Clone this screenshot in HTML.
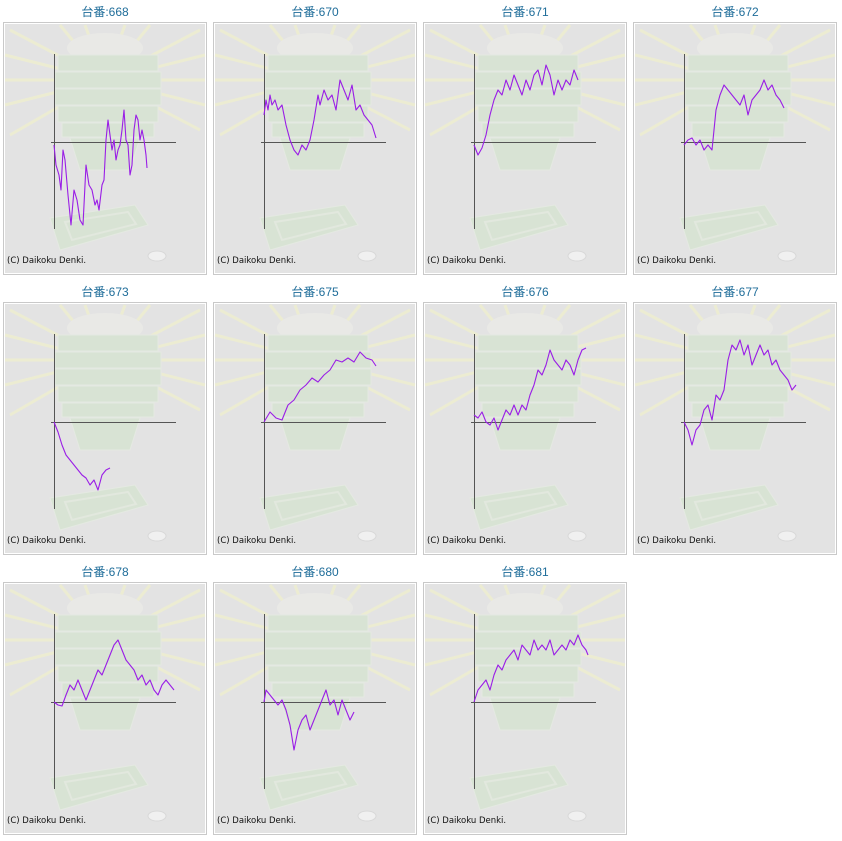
<!DOCTYPE html>
<html><head><meta charset="utf-8"><style>
html,body{margin:0;padding:0;background:#fff;}
svg{display:block}
.t{font-family:"Liberation Sans","Noto Sans CJK JP",sans-serif;font-size:12px;fill:#1f6d9a;text-anchor:middle}
.c{font-family:"DejaVu Sans","Liberation Sans",sans-serif;font-size:8.5px;fill:#111}
.s{fill:none;stroke:#9a1ee6;stroke-width:1.1;stroke-linejoin:round}
</style></head><body>
<svg width="842" height="841" viewBox="0 0 842 841" xmlns="http://www.w3.org/2000/svg">
<defs>
<g id="p">
<rect x="3.5" y="22.5" width="203" height="252" fill="#fff" stroke="#c9c9c9"/>
<rect x="5" y="24" width="200" height="249" fill="#e3e3e3"/>
<g opacity="0.6">
<g stroke="#f2f2c8" stroke-width="3">
<line x1="105" y1="80" x2="10" y2="30"/><line x1="105" y1="80" x2="5" y2="55"/>
<line x1="105" y1="80" x2="5" y2="80"/><line x1="105" y1="80" x2="5" y2="105"/>
<line x1="105" y1="80" x2="10" y2="135"/><line x1="105" y1="80" x2="200" y2="30"/>
<line x1="105" y1="80" x2="205" y2="55"/><line x1="105" y1="80" x2="205" y2="80"/>
<line x1="105" y1="80" x2="205" y2="105"/><line x1="105" y1="80" x2="200" y2="130"/>
<line x1="105" y1="80" x2="60" y2="25"/><line x1="105" y1="80" x2="150" y2="25"/>
<line x1="105" y1="80" x2="85" y2="25"/><line x1="105" y1="80" x2="125" y2="25"/>
</g>
<ellipse cx="105" cy="48" rx="38" ry="15" fill="#eeeee8"/>
<g fill="#d2e4cb" stroke="#e6eee2" stroke-width="1">
<rect x="58" y="55" width="100" height="16"/>
<rect x="55" y="72" width="106" height="16"/>
<rect x="55" y="89" width="106" height="16"/>
<rect x="58" y="106" width="100" height="16"/>
<rect x="62" y="123" width="92" height="14"/>
<path d="M70 138 L140 138 L130 170 L80 170 Z"/>
<path d="M50 218 L135 205 L148 225 L60 250 Z"/>
</g>
<path d="M65 222 L128 212 L136 224 L72 240 Z" fill="none" stroke="#e2ecdc" stroke-width="2"/>
</g>
<ellipse cx="157" cy="256" rx="9" ry="5" fill="#f0f0f0" stroke="#d8d8d8"/>
<line x1="54.5" y1="54" x2="54.5" y2="229" stroke="#555"/>
<line x1="51" y1="142.5" x2="176" y2="142.5" stroke="#555"/>
<text class="c" x="7" y="263">(C) Daikoku Denki.</text>
</g>
</defs>

<g transform="translate(0,0)"><use href="#p"/><text class="t" x="105" y="16">台番:668</text>
<polyline class="s" points="54,145 56,165 59,175 61,190 63,150 65,160 68,195 71,225 74,190 77,200 80,220 83,225 86,165 89,185 92,190 95,205 97,200 99,210 102,185 104,180 106,140 108,120 110,135 112,150 114,140 116,160 118,150 120,145 122,130 124,110 126,140 128,145 130,175 132,165 134,130 136,115 138,120 140,140 142,130 144,140 146,155 147,168"/></g>

<g transform="translate(210,0)"><use href="#p"/><text class="t" x="105" y="16">台番:670</text>
<polyline class="s" points="54,115 56,100 58,110 60,95 62,105 65,100 68,110 72,105 76,125 80,140 84,150 88,155 92,145 96,150 100,140 104,120 108,95 110,105 114,90 118,100 122,95 126,110 130,80 134,90 138,100 142,85 146,110 150,105 154,115 158,120 162,125 166,138"/></g>

<g transform="translate(420,0)"><use href="#p"/><text class="t" x="105" y="16">台番:671</text>
<polyline class="s" points="54,145 58,155 62,148 66,135 70,115 74,100 78,90 82,95 86,80 90,90 94,75 98,85 102,95 106,80 110,90 114,75 118,70 122,85 126,65 130,75 134,95 138,80 142,90 146,80 150,85 154,70 158,80"/></g>

<g transform="translate(630,0)"><use href="#p"/><text class="t" x="105" y="16">台番:672</text>
<polyline class="s" points="54,145 58,140 62,138 66,145 70,140 74,150 78,145 82,150 86,110 90,95 94,85 98,90 102,95 106,100 110,105 114,95 118,115 122,100 126,95 130,90 134,80 138,90 142,85 146,95 150,100 154,108"/></g>

<g transform="translate(0,280)"><use href="#p"/><text class="t" x="105" y="16">台番:673</text>
<polyline class="s" points="54,142 58,152 62,165 66,175 70,180 74,185 78,190 82,195 86,198 90,205 94,200 98,210 102,195 106,190 110,188"/></g>

<g transform="translate(210,280)"><use href="#p"/><text class="t" x="105" y="16">台番:675</text>
<polyline class="s" points="54,142 60,132 66,138 72,140 78,125 84,120 90,110 96,105 102,98 108,102 114,95 120,90 126,80 132,82 138,78 144,82 150,72 156,78 162,80 166,86"/></g>

<g transform="translate(420,280)"><use href="#p"/><text class="t" x="105" y="16">台番:676</text>
<polyline class="s" points="54,135 58,138 62,132 66,142 70,145 74,138 78,150 82,140 86,130 90,135 94,125 98,135 102,125 106,130 110,115 114,105 118,90 122,95 126,85 130,70 134,80 138,85 142,90 146,80 150,85 154,95 158,80 162,70 166,68"/></g>

<g transform="translate(630,280)"><use href="#p"/><text class="t" x="105" y="16">台番:677</text>
<polyline class="s" points="54,142 58,150 62,165 66,150 70,145 74,130 78,125 82,140 86,115 90,120 94,110 98,80 102,65 106,70 110,60 114,75 118,65 122,85 126,75 130,65 134,75 138,70 142,85 146,80 150,90 154,95 158,100 162,110 166,105"/></g>

<g transform="translate(0,560)"><use href="#p"/><text class="t" x="105" y="16">台番:678</text>
<polyline class="s" points="54,142 58,145 62,146 66,135 70,125 74,130 78,120 82,130 86,140 90,130 94,120 98,110 102,115 106,105 110,95 114,85 118,80 122,90 126,100 130,105 134,110 138,120 142,115 146,125 150,120 154,130 158,135 162,125 166,120 170,125 174,130"/></g>

<g transform="translate(210,560)"><use href="#p"/><text class="t" x="105" y="16">台番:680</text>
<polyline class="s" points="54,142 56,130 60,135 64,140 68,145 72,140 76,150 80,165 84,190 88,170 92,160 96,155 100,170 104,160 108,150 112,140 116,130 120,145 124,140 128,155 132,140 136,150 140,160 144,152"/></g>

<g transform="translate(420,560)"><use href="#p"/><text class="t" x="105" y="16">台番:681</text>
<polyline class="s" points="54,142 58,130 62,125 66,120 70,130 74,115 78,105 82,110 86,100 90,95 94,90 98,100 102,85 106,90 110,95 114,80 118,90 122,85 126,90 130,80 134,95 138,90 142,85 146,90 150,80 154,85 158,75 162,85 166,90 168,95"/></g>
</svg>
</body></html>
